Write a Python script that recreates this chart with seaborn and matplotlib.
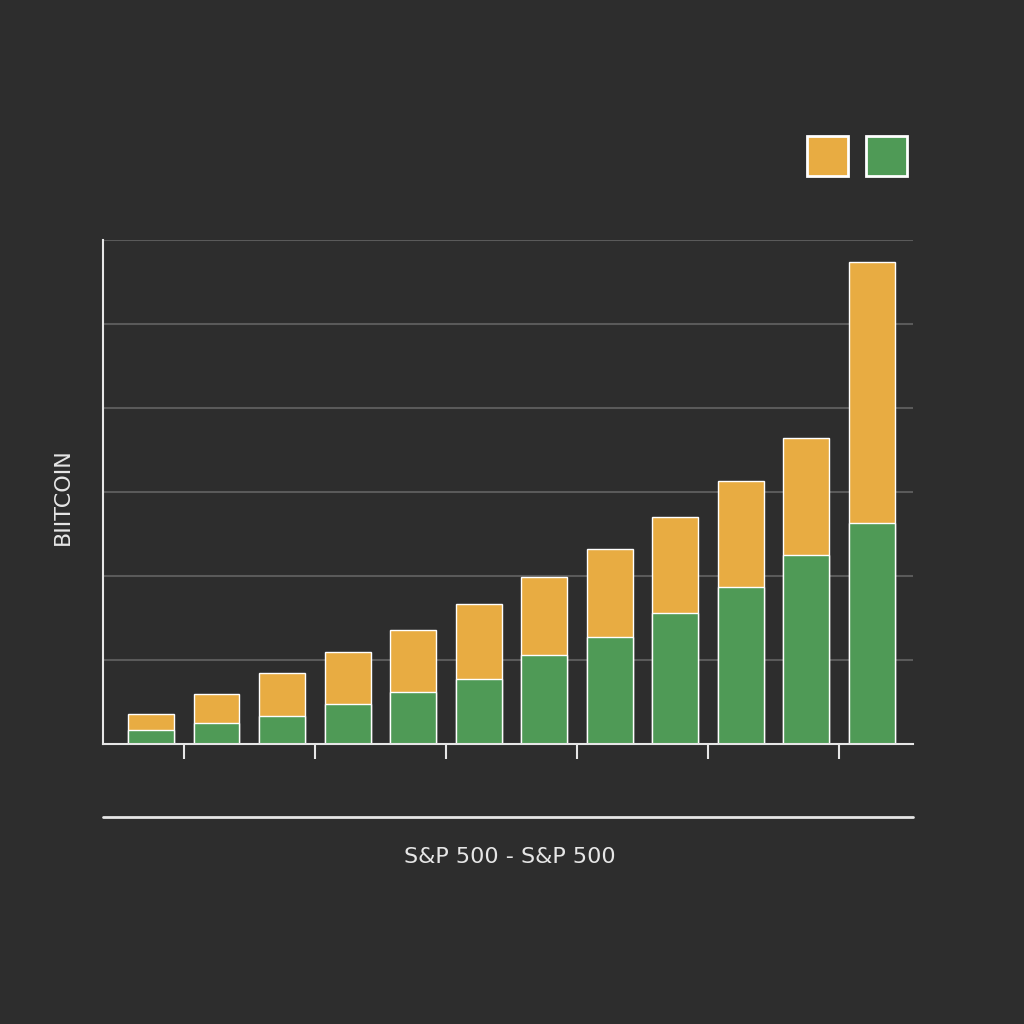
import numpy as np
import pandas as pd
import matplotlib
matplotlib.use("Agg")
import matplotlib.pyplot as plt
import seaborn as sns
from matplotlib.lines import Line2D
from matplotlib.patches import Rectangle

periods = list(range(12))
sp500 = [0.17, 0.25, 0.33, 0.48, 0.62, 0.77, 1.06, 1.27, 1.56, 1.87, 2.25, 2.63]
bitcoin = [0.19, 0.35, 0.52, 0.62, 0.74, 0.90, 0.93, 1.05, 1.14, 1.26, 1.39, 3.11]
totals = [a + b for a, b in zip(sp500, bitcoin)]

bg = "#2d2d2d"
orange = "#e8ac42"
green = "#4f9a56"
fg = "#e6e6e6"

sns.set_theme(style="dark")
plt.rcParams['font.family'] = ['DejaVu Sans']

fig = plt.figure(figsize=(10.24, 10.24), dpi=100, facecolor=bg)
ax = fig.add_axes([103 / 1024, 280 / 1024, 810 / 1024, 504 / 1024])
ax.set_facecolor(bg)

df = pd.DataFrame({"period": periods, "total": totals, "sp500": sp500})
sns.barplot(data=df, x="period", y="total", color=orange, width=0.7,
            saturation=1, ax=ax, native_scale=True)
sns.barplot(data=df, x="period", y="sp500", color=green, width=0.7,
            saturation=1, ax=ax, native_scale=True)

ax.set_xlim(-0.733, 11.63)
ax.set_ylim(0, 6)
for yv in range(1, 7):
    ax.axhline(yv, color="#5a5a5a", lw=1.5, zorder=0)

ax.set_xticks([0.5, 2.5, 4.5, 6.5, 8.5, 10.5])
ax.set_xticklabels([])
ax.set_yticks([])
ax.tick_params(axis="x", direction="out", length=11, width=1.5, color=fg, bottom=True)
for s in ["top", "right"]:
    ax.spines[s].set_visible(False)
for s in ["left", "bottom"]:
    ax.spines[s].set_color(fg)
    ax.spines[s].set_linewidth(1.5)
ax.set_xlabel("")
ax.set_ylabel("")

fig.add_artist(Line2D([103 / 1024, 913 / 1024], [207 / 1024, 207 / 1024],
                      color=fg, lw=2, transform=fig.transFigure))
fig.text(510 / 1024, 167 / 1024, "S&P 500 - S&P 500", color=fg, fontsize=16,
         ha="center", va="center")
fig.text(63 / 1024, 527 / 1024, "BIITCOIN", color=fg, fontsize=16,
         rotation=90, ha="center", va="center")

for x0, c in [(807, orange), (866, green)]:
    fig.add_artist(Rectangle((x0 / 1024, (1024 - 176) / 1024), 41 / 1024, 40 / 1024,
                             facecolor=c, edgecolor="white", lw=2,
                             transform=fig.transFigure))

fig.savefig("out.png", dpi=100, facecolor=bg)
